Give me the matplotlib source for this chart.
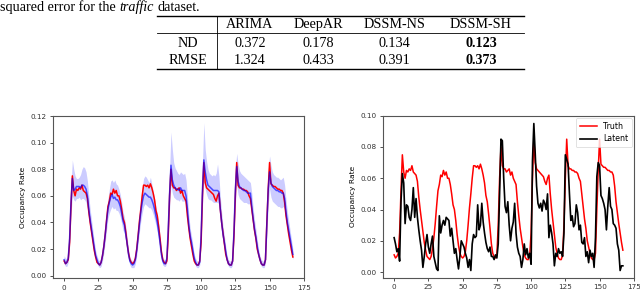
import matplotlib
matplotlib.use("Agg")
import matplotlib.pyplot as plt
from matplotlib.lines import Line2D
import numpy as np

# table values
methods = ["ARIMA", "DeepAR", "DSSM-NS", "DSSM-SH"]
metrics = ["ND", "RMSE"]
nd_vals = ["0.372", "0.178", "0.134", "0.123"]
rmse_vals = ["1.324", "0.433", "0.391", "0.373"]

# hourly occupancy, 7 days x 24 h
truth = [
    0.011, 0.009, 0.010, 0.012, 0.025, 0.052, 0.075, 0.064, 0.060, 0.065, 0.064, 0.066, 0.065, 0.068, 0.064, 0.063, 0.062, 0.058, 0.048, 0.040, 0.033, 0.026, 0.019, 0.014,
    0.010, 0.009, 0.008, 0.010, 0.015, 0.022, 0.031, 0.042, 0.052, 0.056, 0.062, 0.061, 0.065, 0.062, 0.064, 0.060, 0.060, 0.056, 0.050, 0.043, 0.040, 0.033, 0.024, 0.017,
    0.012, 0.010, 0.009, 0.010, 0.013, 0.020, 0.030, 0.041, 0.050, 0.060, 0.068, 0.068, 0.067, 0.068, 0.066, 0.069, 0.066, 0.062, 0.057, 0.049, 0.045, 0.037, 0.028, 0.018,
    0.012, 0.010, 0.009, 0.011, 0.030, 0.060, 0.080, 0.068, 0.066, 0.066, 0.064, 0.065, 0.066, 0.062, 0.064, 0.060, 0.058, 0.056, 0.045, 0.036, 0.028, 0.022, 0.016, 0.011,
    0.009, 0.008, 0.008, 0.011, 0.025, 0.060, 0.085, 0.070, 0.066, 0.065, 0.064, 0.063, 0.062, 0.061, 0.058, 0.056, 0.060, 0.062, 0.050, 0.040, 0.032, 0.024, 0.016, 0.012,
    0.009, 0.008, 0.008, 0.011, 0.030, 0.060, 0.085, 0.068, 0.066, 0.066, 0.065, 0.065, 0.064, 0.064, 0.063, 0.060, 0.058, 0.050, 0.042, 0.034, 0.028, 0.020, 0.016, 0.012,
    0.009, 0.008, 0.008, 0.012, 0.040, 0.065, 0.085, 0.069, 0.068, 0.067, 0.067, 0.066, 0.065, 0.065, 0.064, 0.064, 0.062, 0.055, 0.045, 0.038, 0.031, 0.025, 0.019, 0.014,
]
pred = [
    0.012, 0.009, 0.010, 0.013, 0.028, 0.055, 0.073, 0.064, 0.065, 0.067, 0.067, 0.067, 0.066, 0.068, 0.068, 0.067, 0.065, 0.060, 0.050, 0.042, 0.035, 0.028, 0.021, 0.015,
    0.012, 0.009, 0.008, 0.010, 0.015, 0.022, 0.031, 0.041, 0.050, 0.055, 0.059, 0.061, 0.058, 0.059, 0.057, 0.057, 0.055, 0.052, 0.047, 0.041, 0.038, 0.031, 0.024, 0.016,
    0.011, 0.009, 0.008, 0.009, 0.012, 0.019, 0.029, 0.039, 0.048, 0.055, 0.060, 0.062, 0.061, 0.060, 0.059, 0.059, 0.057, 0.054, 0.050, 0.045, 0.040, 0.033, 0.025, 0.016,
    0.011, 0.009, 0.009, 0.013, 0.035, 0.062, 0.083, 0.072, 0.068, 0.066, 0.065, 0.065, 0.064, 0.066, 0.064, 0.064, 0.064, 0.060, 0.050, 0.038, 0.030, 0.025, 0.019, 0.013,
    0.010, 0.008, 0.008, 0.010, 0.030, 0.065, 0.087, 0.078, 0.072, 0.068, 0.067, 0.066, 0.065, 0.064, 0.064, 0.064, 0.064, 0.063, 0.050, 0.040, 0.031, 0.025, 0.018, 0.012,
    0.009, 0.008, 0.008, 0.011, 0.033, 0.065, 0.082, 0.071, 0.067, 0.066, 0.065, 0.064, 0.064, 0.063, 0.062, 0.062, 0.062, 0.052, 0.043, 0.035, 0.029, 0.022, 0.016, 0.012,
    0.009, 0.008, 0.008, 0.012, 0.038, 0.065, 0.078, 0.070, 0.067, 0.066, 0.065, 0.064, 0.064, 0.063, 0.063, 0.062, 0.062, 0.058, 0.048, 0.040, 0.034, 0.028, 0.022, 0.016,
]
upper = [
    0.015, 0.013, 0.013, 0.017, 0.035, 0.068, 0.087, 0.080, 0.075, 0.073, 0.073, 0.074, 0.076, 0.080, 0.082, 0.081, 0.078, 0.071, 0.060, 0.050, 0.042, 0.034, 0.026, 0.019,
    0.015, 0.012, 0.011, 0.013, 0.019, 0.027, 0.037, 0.048, 0.058, 0.065, 0.071, 0.072, 0.070, 0.072, 0.069, 0.068, 0.065, 0.061, 0.055, 0.048, 0.044, 0.037, 0.029, 0.020,
    0.014, 0.012, 0.011, 0.012, 0.016, 0.024, 0.035, 0.047, 0.057, 0.066, 0.073, 0.075, 0.074, 0.072, 0.070, 0.074, 0.069, 0.064, 0.058, 0.052, 0.047, 0.039, 0.030, 0.020,
    0.014, 0.012, 0.012, 0.017, 0.045, 0.080, 0.108, 0.095, 0.085, 0.081, 0.079, 0.077, 0.076, 0.078, 0.077, 0.076, 0.077, 0.072, 0.060, 0.046, 0.036, 0.030, 0.023, 0.016,
    0.013, 0.011, 0.011, 0.013, 0.040, 0.085, 0.115, 0.095, 0.086, 0.080, 0.077, 0.076, 0.075, 0.076, 0.075, 0.077, 0.084, 0.075, 0.060, 0.048, 0.037, 0.030, 0.022, 0.015,
    0.012, 0.011, 0.011, 0.014, 0.042, 0.080, 0.092, 0.084, 0.079, 0.077, 0.076, 0.075, 0.074, 0.073, 0.072, 0.071, 0.070, 0.062, 0.051, 0.042, 0.035, 0.027, 0.020, 0.015,
    0.012, 0.011, 0.011, 0.015, 0.048, 0.080, 0.090, 0.083, 0.078, 0.076, 0.075, 0.074, 0.074, 0.073, 0.072, 0.073, 0.074, 0.068, 0.057, 0.048, 0.041, 0.034, 0.027, 0.020,
]
lower = [
    0.009, 0.007, 0.007, 0.010, 0.022, 0.045, 0.060, 0.057, 0.056, 0.058, 0.058, 0.059, 0.057, 0.058, 0.058, 0.057, 0.055, 0.050, 0.042, 0.035, 0.029, 0.023, 0.017, 0.011,
    0.009, 0.007, 0.006, 0.007, 0.011, 0.017, 0.025, 0.034, 0.043, 0.047, 0.050, 0.052, 0.050, 0.051, 0.049, 0.049, 0.047, 0.044, 0.039, 0.034, 0.032, 0.026, 0.019, 0.012,
    0.008, 0.006, 0.006, 0.006, 0.009, 0.015, 0.024, 0.033, 0.041, 0.047, 0.052, 0.054, 0.053, 0.052, 0.051, 0.051, 0.049, 0.046, 0.042, 0.038, 0.033, 0.027, 0.020, 0.012,
    0.008, 0.007, 0.007, 0.010, 0.028, 0.050, 0.068, 0.062, 0.059, 0.058, 0.057, 0.057, 0.056, 0.058, 0.056, 0.056, 0.056, 0.052, 0.042, 0.031, 0.024, 0.020, 0.015, 0.010,
    0.007, 0.006, 0.006, 0.008, 0.024, 0.052, 0.070, 0.065, 0.061, 0.058, 0.057, 0.057, 0.056, 0.055, 0.055, 0.055, 0.055, 0.054, 0.042, 0.033, 0.025, 0.020, 0.014, 0.009,
    0.007, 0.006, 0.006, 0.008, 0.027, 0.053, 0.068, 0.061, 0.058, 0.057, 0.056, 0.055, 0.055, 0.055, 0.054, 0.054, 0.054, 0.044, 0.036, 0.029, 0.024, 0.018, 0.013, 0.009,
    0.007, 0.006, 0.006, 0.009, 0.030, 0.053, 0.065, 0.059, 0.056, 0.055, 0.054, 0.053, 0.052, 0.052, 0.051, 0.051, 0.052, 0.049, 0.040, 0.033, 0.028, 0.023, 0.017, 0.012,
]
latent = [
    0.022, 0.018, 0.013, 0.015, 0.007, 0.045, 0.063, 0.057, 0.031, 0.043, 0.042, 0.035, 0.033, 0.040, 0.054, 0.035, 0.047, 0.035, 0.027, 0.020, 0.014, 0.003, 0.010, 0.018,
    0.024, 0.016, 0.012, 0.018, 0.023, 0.010, 0.006, 0.002, 0.001, 0.036, 0.025, 0.030, 0.033, 0.030, 0.035, 0.034, 0.033, 0.023, 0.028, 0.020, 0.012, 0.015, 0.008, 0.002,
    0.010, 0.020, 0.018, 0.016, 0.012, 0.009, 0.003, 0.008, 0.001, 0.018, 0.024, 0.022, 0.023, 0.043, 0.027, 0.030, 0.044, 0.032, 0.025, 0.019, 0.015, 0.013, 0.016, 0.010,
    0.010, 0.008, 0.011, 0.009, 0.018, 0.050, 0.085, 0.084, 0.060, 0.042, 0.038, 0.045, 0.030, 0.020, 0.028, 0.032, 0.044, 0.025, 0.016, 0.012, 0.010, 0.003, 0.008, 0.018,
    0.011, 0.015, 0.009, 0.012, 0.005, 0.071, 0.095, 0.076, 0.055, 0.044, 0.041, 0.044, 0.039, 0.046, 0.044, 0.040, 0.050, 0.022, 0.030, 0.025, 0.018, 0.004, 0.012, 0.010,
    0.015, 0.012, 0.013, 0.010, 0.025, 0.075, 0.072, 0.069, 0.050, 0.033, 0.036, 0.029, 0.031, 0.043, 0.038, 0.027, 0.030, 0.019, 0.018, 0.022, 0.010, 0.013, 0.006, 0.014,
    0.010, 0.012, 0.003, 0.022, 0.061, 0.070, 0.068, 0.049, 0.047, 0.044, 0.040, 0.027, 0.042, 0.054, 0.042, 0.040, 0.031, 0.030, 0.028, 0.018, 0.014, 0.001, 0.004, 0.004,
]
hours = np.arange(len(truth))

W, H = 640, 290
fig = plt.figure(figsize=(6.4, 2.9), dpi=100)


def fx(px):
    return px / W


def fy(py):
    return 1 - py / H


# caption line and table on top (paper excerpt)
serif = "Liberation Serif"
tsize = 10.2
renderer = fig.canvas.get_renderer()
x0 = 0.0
for piece, st in [("squared error for the", "normal"), ("traffic", "italic"), ("dataset.", "normal")]:
    t = fig.text(fx(x0), fy(11), piece, family=serif, size=tsize, style=st, va="baseline")
    x0 = t.get_window_extent(renderer).x1 + tsize * 0.25 * 100 / 72

rule_x = [fx(157), fx(524)]
for py, lw in [(16, 1.0), (32.7, 0.6), (69.3, 1.0)]:
    fig.add_artist(Line2D(rule_x, [fy(py), fy(py)], color="black", lw=lw))
fig.add_artist(Line2D([fx(216.7), fx(216.7)], [fy(16), fy(69.3)], color="black", lw=0.6))

col_x = [250, 318.5, 394, 481]
for cx, name in zip(col_x, methods):
    fig.text(fx(cx), fy(28.3), name, family=serif, size=tsize, ha="center", va="baseline")
row_y = [46.7, 64.3]
for ry, metric, vals in zip(row_y, metrics, [nd_vals, rmse_vals]):
    fig.text(fx(187.5), fy(ry), metric, family=serif, size=tsize, ha="center", va="baseline")
    best = min(vals, key=float)
    for cx, v in zip(col_x, vals):
        fig.text(fx(cx), fy(ry), v, family=serif, size=tsize, ha="center", va="baseline",
                 weight="bold" if v == best else "normal")

small = 5.2
ax1 = fig.add_axes([fx(52.7), fy(278.3), fx(304.3 - 52.7), (278.3 - 116) / H])
ax2 = fig.add_axes([fx(382.7), fy(277.7), fx(634.3 - 382.7), (277.7 - 115.7) / H])

ax1.fill_between(hours, lower, upper, color="blue", alpha=0.2, lw=0)
ax1.plot(hours, truth, color="red", lw=1.1)
ax1.plot(hours, pred, color="blue", lw=1.1, alpha=0.65)
ax1.set_ylim(-0.002, 0.12)
ax1.set_yticks(np.arange(0, 0.121, 0.02))

ax2.plot(hours, truth, color="red", lw=1.1, label="Truth")
ax2.plot(hours, latent, color="black", lw=1.2, label="Latent")
ax2.set_ylim(-0.0036, 0.0998)
ax2.set_yticks(np.arange(0, 0.101, 0.02))
leg = ax2.legend(loc="upper right", fontsize=5.6, frameon=True, borderpad=0.5,
                 handlelength=2.2, labelspacing=0.45, borderaxespad=0.3)
leg.get_frame().set_linewidth(0.5)

for ax in (ax1, ax2):
    ax.set_xlim(-8.35, 175.35)
    ax.set_xticks([0, 25, 50, 75, 100, 125, 150, 175])
    ax.set_ylabel("Occupancy Rate", fontsize=5.4, labelpad=3)
    ax.tick_params(labelsize=small, length=2.5, width=0.6, pad=2, colors="#333333")
    ax.yaxis.set_major_formatter(matplotlib.ticker.FormatStrFormatter("%.2f"))
    for s in ax.spines.values():
        s.set_color("#555555")
        s.set_linewidth(0.8)

fig.savefig("out.png", dpi=100)
